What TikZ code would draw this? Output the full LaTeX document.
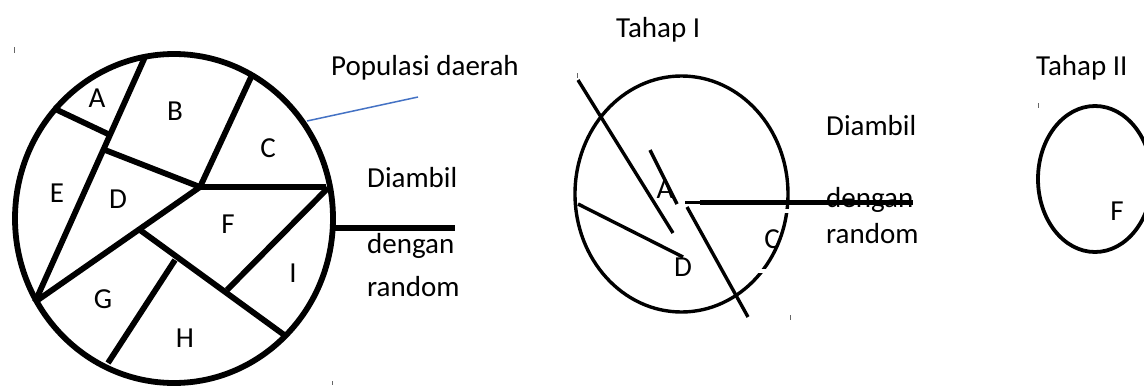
\documentclass[tikz,border=0pt]{standalone}
\usepackage{fontspec}
\setmainfont{Carlito}
\begin{document}
\begin{tikzpicture}[x=1pt,y=-1pt,
  heavy/.style={line width=5.8pt,black},
  medium/.style={line width=3.4pt,black},
  lbl/.style={anchor=base,inner sep=0pt,font=\fontsize{29}{34}\selectfont},
  txt/.style={anchor=base west,inner sep=0pt,font=\fontsize{29}{34}\selectfont},
  tick/.style={line width=1pt,black!60},
  pointer/.style={line width=1.5pt,draw={rgb,255:red,68;green,114;blue,196}}]
\useasboundingbox (0,0) rectangle (1144,386);
\clip (0,0) rectangle (1144,386);
% ---------- population circle ----------
\coordinate (bc) at (174,218.5);
\draw[heavy] (bc) ellipse [x radius=159, y radius=164.5];
\coordinate (pAE) at (53,108);   \coordinate (pAB) at (108,134);
\coordinate (pTop) at (145,57);  \coordinate (pLow) at (35,302);
\coordinate (pBD) at (105,150);  \coordinate (pMid) at (200,187);
\coordinate (pBC) at (252,75);   \coordinate (pCF) at (326,187);
\coordinate (pFG) at (140,230);  \coordinate (pHI) at (287,337);
\coordinate (pGH) at (175,260);  \coordinate (pGHb) at (108,363);
\coordinate (pI1) at (328,188);  \coordinate (pI2) at (227,290);
\draw[heavy] (pAE) -- (pAB);
\draw[heavy] (pTop) -- (pLow);
\draw[heavy] (pBD) -- (pMid);
\draw[heavy] (pBC) -- (pMid);
\draw[heavy] (pMid) -- (pCF);
\draw[heavy] (pMid) -- (pLow);
\draw[heavy] (pFG) -- (pHI);
\draw[heavy] (pGH) -- (pGHb);
\draw[heavy] (pI1) -- (pI2);
\node[lbl] (lA) at (97,107) {A};
\node[lbl] (lB) at (175,120) {B};
\node[lbl] (lC) at (268,157) {C};
\node[lbl] (lE) at (57,202) {E};
\node[lbl] (lD) at (118,208) {D};
\node[lbl] (lF) at (228,233) {F};
\node[lbl] (lI) at (293,282) {I};
\node[lbl] (lG) at (103,308) {G};
\node[lbl] (lH) at (185,347) {H};
% pointer label
\node[txt] (pop) at (331,75) {Populasi daerah};
\coordinate (popEnd) at (418,97);
\coordinate (popCirc) at (307,121);
\draw[pointer] (popCirc) -- (popEnd);
% arrow line 1
\coordinate (h1a) at (335,228); \coordinate (h1b) at (455,228);
\draw[heavy] (h1a) -- (h1b);
\node[txt] (d1) at (367,187) {Diambil};
\node[txt] (d2) at (367,253) {dengan};
\node[txt] (d3) at (367,296) {random};
% ---------- stage I ----------
\node[txt] (t1) at (616,37) {Tahap I};
\draw[medium] (681.5,194) ellipse [x radius=106.5, y radius=118];
\fill[white] (782,208.5) rectangle (794,213);
\fill[white] (757,268.5) rectangle (772,273);
\coordinate (m1a) at (578,80);  \coordinate (m1b) at (673,233);
\coordinate (m2a) at (650,150); \coordinate (m2b) at (677,204);
\coordinate (m3a) at (578,204); \coordinate (m3b) at (683,257);
\coordinate (m4a) at (687,207); \coordinate (m4b) at (748,317);
\coordinate (h2a) at (685,202.5); \coordinate (h2m) at (700,202.5); \coordinate (h2b) at (913,202.5);
\draw[medium] (m1a) -- (m1b);
\draw[medium] (m2a) -- (m2b);
\draw[medium] (m3a) -- (m3b);
\draw[medium] (m4a) -- (m4b);
\draw[medium] (h2a) -- (h2b);
\draw[heavy] (h2m) -- (h2b);
\node[lbl] (mA) at (665,198) {A};
\node[lbl] (mD) at (683,276) {D};
\node[lbl] (mC) at (772,248) {C};
\node[txt] (e1) at (826,135) {Diambil};
\node[txt] (e2) at (826,207) {dengan};
\node[txt] (e3) at (826,243) {random};
% ---------- stage II ----------
\node[txt] (t2) at (1036,75) {Tahap II};
\draw[line width=3.8pt] (1095,179) ellipse [x radius=57, y radius=73];
\node[lbl] (rF) at (1117,220) {F};
% ---------- stray marks ----------
\draw[tick] (14,47) -- (14,53);
\draw[tick] (577,73) -- (577,78);
\draw[tick] (790,315) -- (790,320);
\draw[tick] (1038,103) -- (1038,108);
\draw[tick] (332,381) -- (332,385);
\end{tikzpicture}
\end{document}
